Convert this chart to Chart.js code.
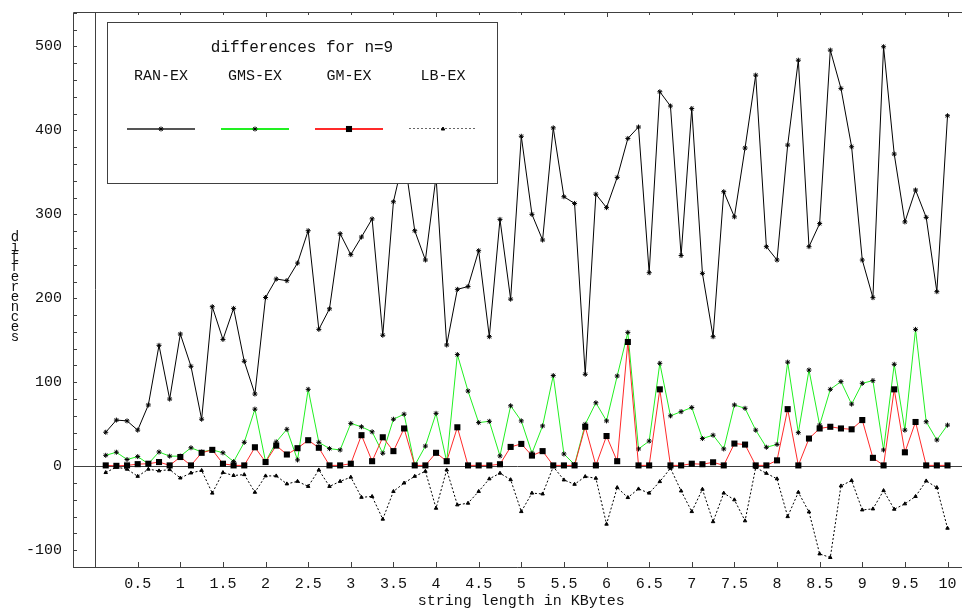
<!DOCTYPE html>
<html>
<head>
<meta charset="utf-8">
<script src="https://cdn.jsdelivr.net/npm/chart.js@4.4.0/dist/chart.umd.min.js"></script>
<style>
  html, body { margin: 0; padding: 0; background: #fff; }
  #wrap { width: 967px; height: 608px; }
</style>
</head>
<body>
<div id="wrap"><canvas id="chart" width="967" height="608"></canvas></div>
<script>
// string length (KBytes) of each test point
const sizesKB = [
  0.125, 0.25, 0.375, 0.5, 0.625, 0.75, 0.875, 1, 1.125, 1.25, 1.375, 1.5, 1.625, 1.75, 1.875, 2,
  2.125, 2.25, 2.375, 2.5, 2.625, 2.75, 2.875, 3, 3.125, 3.25, 3.375, 3.5, 3.625, 3.75, 3.875, 4,
  4.125, 4.25, 4.375, 4.5, 4.625, 4.75, 4.875, 5, 5.125, 5.25, 5.375, 5.5, 5.625, 5.75, 5.875, 6,
  6.125, 6.25, 6.375, 6.5, 6.625, 6.75, 6.875, 7, 7.125, 7.25, 7.375, 7.5, 7.625, 7.75, 7.875, 8,
  8.125, 8.25, 8.375, 8.5, 8.625, 8.75, 8.875, 9, 9.125, 9.25, 9.375, 9.5, 9.625, 9.75, 9.875, 10
];

const ranEx = [
  40.5, 55, 54, 43, 73, 144, 80, 157.5, 119, 56, 190, 151, 188, 125, 86, 201,
  223, 221, 242, 280.5, 163, 187.5, 277, 252, 273, 294.6, 156, 315, 370, 280.5, 245.6, 345,
  144.4, 210.7, 214, 256.7, 154.3, 294, 199, 393, 300, 269.4, 403, 321, 313, 109.5, 324, 308,
  344, 390.4, 404, 230.5, 446, 429, 251, 426, 229.7, 154.3, 327, 297, 379, 465.8, 261.5, 245.6,
  382.5, 483.6, 261.5, 289, 495.6, 450, 380.5, 245.6, 200.8, 499.6, 371.8, 291, 329, 296.4, 207.9, 417.4
];

const gmsEx = [
  13, 16.7, 8, 11.5, 3, 17, 12, 12, 22, 17, 19.5, 16, 5.5, 28.5, 68, 5.5,
  29, 44, 7.5, 91.6, 28.5, 21, 19.4, 51, 47, 41, 15.5, 56, 62, 1, 24, 63,
  5.5, 133, 89.6, 52, 53.5, 12.3, 72, 54, 15.5, 48, 108, 14.6, 2, 50, 75.6, 54,
  107.5, 159.4, 20.6, 30, 122.6, 60, 65, 70, 33, 37, 20.6, 73, 69, 43, 22.6, 26,
  124, 40, 114.6, 49, 91.6, 100.8, 74, 98.8, 102, 19.4, 121.4, 43, 163, 53, 31.3, 49
];

const gmEx = [
  1, 0.5, 1, 2.5, 3, 5, 1, 11, 1, 16, 19.5, 3, 1, 1, 22.6, 5,
  24.6, 14, 21.5, 31, 22, 1, 1, 3, 37, 6, 34.5, 18, 45, 1, 1, 16,
  6, 46.4, 1, 1, 1, 2.4, 23, 26.6, 12.7, 18, 1, 1, 1, 47, 1, 36,
  6, 148, 1, 1, 91.6, 1, 1, 3, 2.4, 4.7, 1, 27, 25.8, 1, 1, 7,
  68, 1, 33, 45, 47, 45, 44, 55, 10, 1, 91.6, 16.6, 52.7, 1, 1, 1
];

const lbEx = [
  -7.5, -1, -3.5, -12, -3.5, -5.5, -4, -14, -8, -5, -32, -7.5, -11, -10, -31, -11.5,
  -11.5, -21, -18, -24, -4.4, -24, -18, -13, -37, -36, -63, -30, -20, -12, -6, -50,
  -4.4, -46, -44, -30, -15, -8.3, -16, -54, -32, -33, -0.5, -16.3, -21.5, -12.3, -14.3, -69,
  -25.4, -37.3, -27, -32, -18.3, -2.4, -29.4, -54, -27.4, -66, -32, -40, -65, -1.6, -8.4, -15,
  -60, -31, -54.4, -104.4, -108.7, -23.4, -17, -52, -50.8, -29, -51.2, -44.8, -36, -17.5, -25.4, -73.8
];

const xTicks = [0.5, 1, 1.5, 2, 2.5, 3, 3.5, 4, 4.5, 5, 5.5, 6, 6.5, 7, 7.5, 8, 8.5, 9, 9.5, 10];
const yTicks = [-100, 0, 100, 200, 300, 400, 500];
const yMinorStep = 20;

const seriesNames = ["RAN-EX", "GMS-EX", "GM-EX", "LB-EX"];
const seriesColors = ["#000000", "#22f022", "#ff2a2a", "#000000"];
const seriesDash = [[], [], [], [2, 2]];
const legendTitle = "differences for n=9";
const xTitle = "string length in KBytes";
const yTitle = "differences";

const FONT = '"Liberation Mono", "Courier New", monospace';
const AXIS = "#404040";

function points(values) {
  return values.map((v, i) => ({ x: sizesKB[i], y: v }));
}

// frame, zero lines, ticks and labels drawn from the chart's own scales
const framePlugin = {
  id: "frame",
  beforeDatasetsDraw(chart) {
    const { ctx, chartArea: a, scales } = chart;
    const xs = scales.x;
    const ys = scales.y;
    ctx.save();
    ctx.strokeStyle = AXIS;
    ctx.lineWidth = 1;

    ctx.beginPath();
    ctx.moveTo(a.left + 0.5, a.top + 0.5);
    ctx.lineTo(a.left + 0.5, a.bottom + 0.5);
    ctx.lineTo(a.right, a.bottom + 0.5);
    ctx.moveTo(a.left + 0.5, a.top + 0.5);
    ctx.lineTo(a.right, a.top + 0.5);
    const x0 = Math.round(xs.getPixelForValue(0)) + 0.5;
    const y0 = Math.round(ys.getPixelForValue(0)) + 0.5;
    ctx.moveTo(x0, a.top);
    ctx.lineTo(x0, a.bottom);
    ctx.moveTo(a.left, y0);
    ctx.lineTo(a.right, y0);
    ctx.stroke();

    // x ticks, top and bottom
    ctx.beginPath();
    xTicks.forEach((t) => {
      const px = Math.round(xs.getPixelForValue(t)) + 0.5;
      ctx.moveTo(px, a.bottom);
      ctx.lineTo(px, a.bottom - 5);
      ctx.moveTo(px, a.top);
      ctx.lineTo(px, a.top + (t % 2 === 0 ? 5 : 3));
    });
    // y minor ticks on the left frame
    for (let v = ys.min; v <= ys.max; v += yMinorStep) {
      const py = Math.round(ys.getPixelForValue(v)) + 0.5;
      ctx.moveTo(a.left, py);
      ctx.lineTo(a.left + 4, py);
    }
    ctx.stroke();

    ctx.fillStyle = "#111";
    ctx.font = "15px " + FONT;
    ctx.textBaseline = "middle";
    ctx.textAlign = "center";
    xTicks.forEach((t) => {
      ctx.fillText(String(t), xs.getPixelForValue(t), a.bottom + 17);
    });
    ctx.textAlign = "right";
    yTicks.forEach((t) => {
      ctx.fillText(String(t), 62, ys.getPixelForValue(t));
    });

    ctx.textAlign = "center";
    ctx.fillText(xTitle, (xs.getPixelForValue(0) + xs.getPixelForValue(10)) / 2, a.bottom + 34);

    // y title: upright letters stacked top to bottom
    ctx.font = "14px " + FONT;
    [...yTitle].forEach((ch, i) => {
      ctx.fillText(ch, 15, 237 + i * 10);
    });
    ctx.restore();
  },
  afterDatasetsDraw(chart) {
    const { ctx } = chart;
    const box = { left: 107.5, top: 22.5, right: 497.5, bottom: 183.5 };
    ctx.save();
    ctx.fillStyle = "#fff";
    ctx.strokeStyle = AXIS;
    ctx.lineWidth = 1;
    ctx.fillRect(box.left, box.top, box.right - box.left, box.bottom - box.top);
    ctx.strokeRect(box.left, box.top, box.right - box.left, box.bottom - box.top);

    ctx.fillStyle = "#111";
    ctx.font = "16px " + FONT;
    ctx.textAlign = "center";
    ctx.textBaseline = "middle";
    ctx.fillText(legendTitle, 302, 48);

    ctx.font = "15px " + FONT;
    const centers = [161, 255, 349, 443];
    chart.data.datasets.forEach((ds, i) => {
      const cx = centers[i];
      ctx.fillStyle = "#111";
      ctx.fillText(seriesNames[i], cx, 76);

      const dotted = seriesDash[i].length > 0;
      ctx.strokeStyle = i === 0 ? "#555555" : (dotted ? "#666666" : seriesColors[i]);
      ctx.lineWidth = dotted ? 1 : 2;
      ctx.setLineDash(seriesDash[i]);
      ctx.beginPath();
      ctx.moveTo(cx - 34, dotted ? 128.5 : 129);
      ctx.lineTo(cx + 34, dotted ? 128.5 : 129);
      ctx.stroke();
      ctx.setLineDash([]);

      ctx.fillStyle = "#000";
      ctx.strokeStyle = "#000";
      ctx.lineWidth = 1;
      Chart.helpers.drawPoint(ctx, {
        pointStyle: ds.pointStyle,
        radius: ds.pointRadius,
        borderWidth: ds.pointBorderWidth
      }, cx, 129);
    });
    ctx.restore();
  }
};

function dataset(i, values, extra) {
  return Object.assign({
    label: seriesNames[i],
    data: points(values),
    borderColor: seriesColors[i],
    borderWidth: 1,
    borderDash: seriesDash[i],
    pointBorderColor: "#000000",
    pointBackgroundColor: "#000000",
    pointBorderWidth: 1
  }, extra);
}

const chart = new Chart(document.getElementById("chart"), {
  type: "line",
  data: {
    datasets: [
      dataset(0, ranEx, { pointStyle: "star", pointRadius: 2.5, order: 1 }),
      dataset(1, gmsEx, { pointStyle: "star", pointRadius: 2.5, order: 3 }),
      dataset(2, gmEx, { pointStyle: "rect", pointRadius: 4.3, pointBorderWidth: 0, order: 2 }),
      dataset(3, lbEx, { pointStyle: "triangle", pointRadius: 2, order: 4 })
    ]
  },
  options: {
    responsive: false,
    animation: false,
    layout: { padding: { left: 73, top: 12, right: 0, bottom: 41 } },
    elements: { line: { tension: 0 } },
    scales: {
      x: { type: "linear", min: -0.259, max: 10.17, display: false },
      y: { type: "linear", min: -120, max: 541, display: false }
    },
    plugins: {
      legend: { display: false },
      tooltip: { enabled: false }
    }
  },
  plugins: [framePlugin]
});
</script>
</body>
</html>
